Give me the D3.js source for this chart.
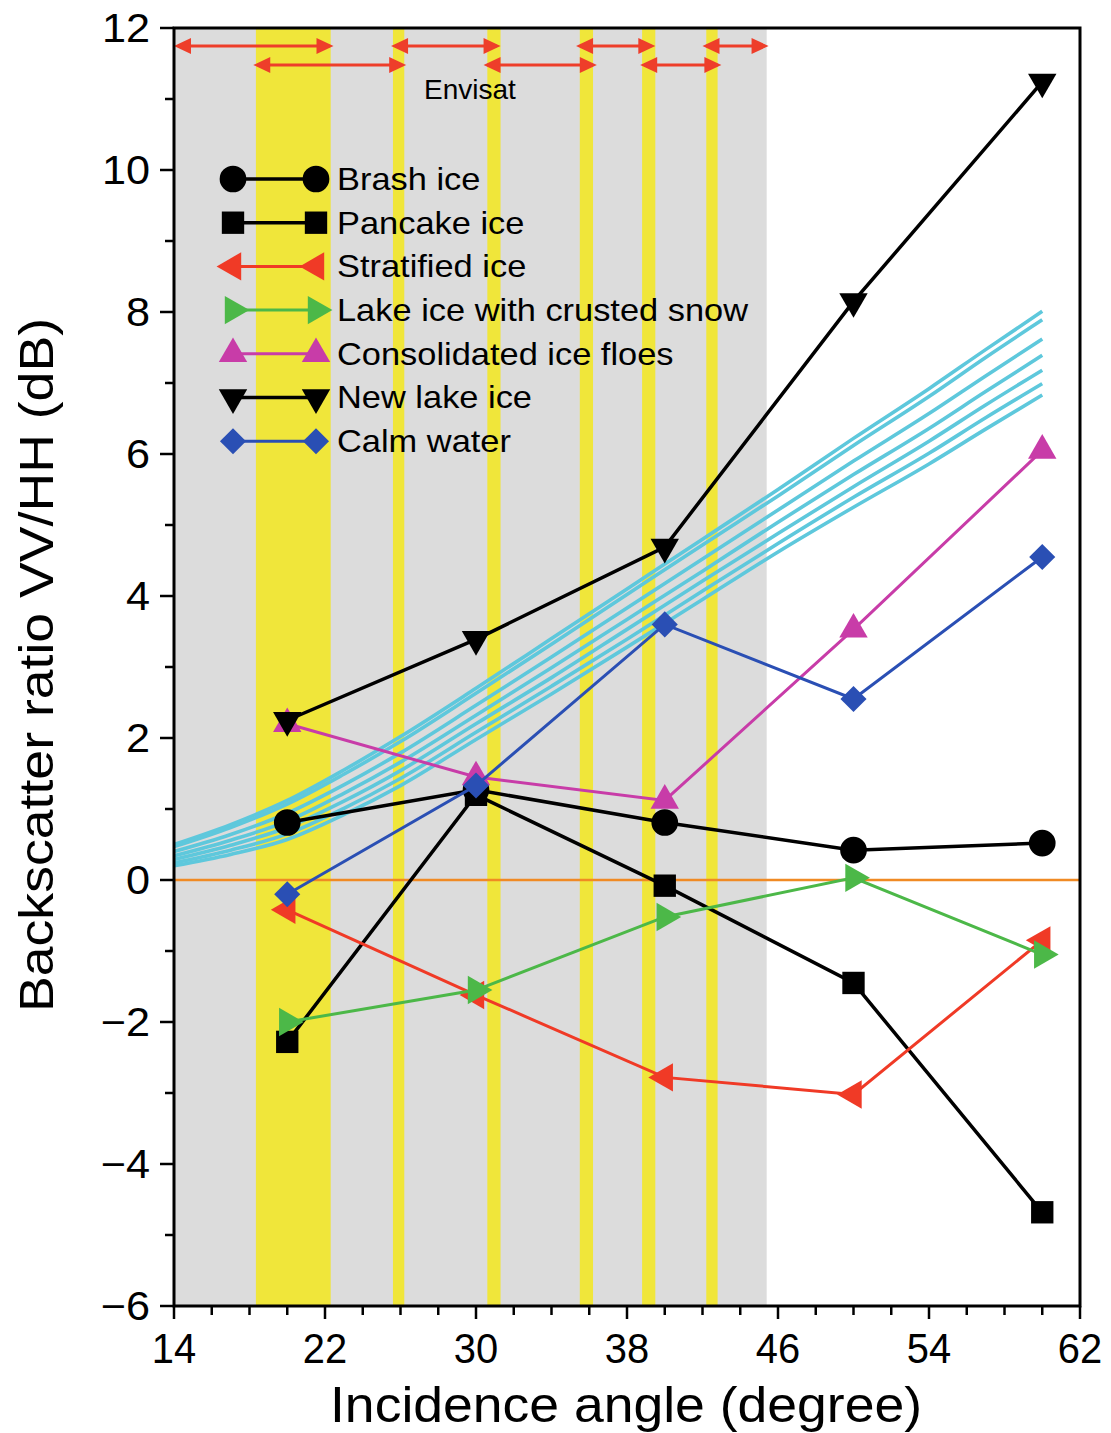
<!DOCTYPE html>
<html><head><meta charset="utf-8">
<script src="https://cdn.jsdelivr.net/npm/d3@7"></script>
<style>html,body{margin:0;padding:0;background:#fff;} svg{display:block;}</style>
</head><body>
<svg id="chart" width="1111" height="1433"></svg>
<script>
// ---------- data ----------
const angles = [20, 30, 40, 50, 60];
const brashIce        = [0.81, 1.27, 0.81, 0.42, 0.52];
const pancakeIce      = [-2.28, 1.20, -0.08, -1.45, -4.68];
const stratifiedIce   = [-0.42, -1.62, -2.78, -3.02, -0.85];
const lakeIceCrusted  = [-2.00, -1.55, -0.52, 0.03, -1.05];
const consolidatedIce = [2.20, 1.45, 1.12, 3.53, 6.05];
const newLakeIce      = [2.25, 3.39, 4.69, 8.15, 11.24];
const calmWater       = [-0.20, 1.33, 3.60, 2.55, 4.55];
const seriesNames = ["Brash ice", "Pancake ice", "Stratified ice", "Lake ice with crusted snow",
                     "Consolidated ice floes", "New lake ice", "Calm water"];

// model curves (cyan)
const curveAngles = [14, 17, 20, 23, 26, 30, 34, 38, 42, 46, 50, 54, 57, 60];
const curve1 = [0.50, 0.78, 1.12, 1.55, 2.02, 2.70, 3.40, 4.10, 4.80, 5.50, 6.22, 6.92, 7.47, 8.01];
const curve2 = [0.47, 0.74, 1.07, 1.49, 1.95, 2.63, 3.32, 4.02, 4.72, 5.41, 6.12, 6.81, 7.36, 7.89];
const curve3 = [0.40, 0.64, 0.94, 1.34, 1.79, 2.46, 3.14, 3.83, 4.52, 5.21, 5.90, 6.57, 7.10, 7.62];
const curve4 = [0.34, 0.56, 0.83, 1.22, 1.66, 2.32, 2.99, 3.67, 4.35, 5.04, 5.71, 6.36, 6.88, 7.39];
const curve5 = [0.29, 0.49, 0.74, 1.11, 1.54, 2.20, 2.85, 3.53, 4.21, 4.88, 5.54, 6.18, 6.69, 7.18];
const curve6 = [0.24, 0.42, 0.65, 1.01, 1.43, 2.08, 2.73, 3.39, 4.07, 4.74, 5.39, 6.01, 6.51, 6.99];
const curve7 = [0.20, 0.36, 0.57, 0.92, 1.33, 1.98, 2.62, 3.28, 3.95, 4.62, 5.25, 5.86, 6.35, 6.83];

// Envisat swaths (arrows) and overlaps (yellow bands)
const swathStart = [14.0, 18.2, 25.5, 30.4, 35.3, 38.7, 42.0];
const swathEnd   = [22.45, 26.3, 31.3, 36.4, 39.5, 43.0, 45.5];
const bandStart  = [18.34, 25.6, 30.6, 35.5, 38.8, 42.2];
const bandEnd    = [22.3, 26.2, 31.3, 36.2, 39.5, 42.8];
const grayRange  = [14, 45.4];

const xTicks = [14, 22, 30, 38, 46, 54, 62];
const yTicks = [-6, -4, -2, 0, 2, 4, 6, 8, 10, 12];

// ---------- layout ----------
const svg = d3.select("#chart");
const L = 174, R = 1080, T = 28, B = 1306;
const x = d3.scaleLinear().domain([14, 62]).range([L, R]);
const y = d3.scaleLinear().domain([-6, 12]).range([B, T]);
const FONT = "'Liberation Sans', Arial, Helvetica, sans-serif";

// gray region
svg.append("rect").attr("x", x(grayRange[0])).attr("y", T)
  .attr("width", x(grayRange[1]) - x(grayRange[0])).attr("height", B - T)
  .attr("fill", "#dcdcdc");
// yellow bands
svg.selectAll("rect.band").data(bandStart).join("rect").attr("class", "band")
  .attr("x", d => x(d)).attr("y", T)
  .attr("width", (d, i) => x(bandEnd[i]) - x(d)).attr("height", B - T)
  .attr("fill", "#f0e63a");

// zero line
svg.append("line").attr("x1", x(14)).attr("x2", x(62)).attr("y1", y(0)).attr("y2", y(0))
  .attr("stroke", "#f08a24").attr("stroke-width", 2.5);

// cyan curves
const curves = [curve1, curve2, curve3, curve4, curve5, curve6, curve7];
const cLine = d3.line().x((d, i) => x(curveAngles[i])).y(d => y(d)).curve(d3.curveMonotoneX);
curves.forEach(c => {
  svg.append("path").attr("d", cLine(c)).attr("fill", "none")
    .attr("stroke", "#5ec8dc").attr("stroke-width", 3.6);
});

// Envisat arrows
const arrowColor = "#ee3e2a";
function arrow(xa, xb, yy) {
  const g = svg.append("g");
  const hl = 17, hw = 8;
  g.append("line").attr("x1", xa + 4).attr("x2", xb - 4).attr("y1", yy).attr("y2", yy)
    .attr("stroke", arrowColor).attr("stroke-width", 3);
  g.append("path").attr("d", `M${xa},${yy}L${xa + hl},${yy - hw}L${xa + hl},${yy + hw}Z`).attr("fill", arrowColor);
  g.append("path").attr("d", `M${xb},${yy}L${xb - hl},${yy - hw}L${xb - hl},${yy + hw}Z`).attr("fill", arrowColor);
}
swathStart.forEach((s, i) => {
  const yy = (i % 2 === 0) ? 46 : 65;
  arrow(x(s), x(swathEnd[i]), yy);
});
svg.append("text").attr("x", 470).attr("y", 99).attr("text-anchor", "middle")
  .attr("font-family", FONT).attr("font-size", 28).attr("fill", "#000").text("Envisat");

// ---------- series ----------
const seriesData = [brashIce, pancakeIce, stratifiedIce, lakeIceCrusted, consolidatedIce, newLakeIce, calmWater];
const seriesColor = ["#000000", "#000000", "#f03a26", "#4cb848", "#c83ca8", "#000000", "#2a4fb4"];
const lineColor   = ["#000000", "#000000", "#f03a26", "#4cb848", "#c83ca8", "#000000", "#2a4fb4"];
const lineWidth   = [3.5, 3.5, 3, 3, 3, 3.5, 3];
const markerType  = ["circle", "square", "tleft", "tright", "tup", "tdown", "diamond"];

function markerPath(type) {
  switch (type) {
    case "circle": return d3.symbol(d3.symbolCircle, 560)();
    case "square": return d3.symbol(d3.symbolSquare, 500)();
    case "diamond": return d3.symbol(d3.symbolSquare, 340)();
    default: return d3.symbol(d3.symbolTriangle, 350)();
  }
}
function markerRot(type) {
  return ({tleft: -90, tright: 90, tup: 0, tdown: 180, diamond: 45})[type] || 0;
}
function drawMarker(g, type, cx, cy, color) {
  g.append("path").attr("d", markerPath(type))
    .attr("transform", `translate(${cx},${cy}) rotate(${markerRot(type)})`)
    .attr("fill", color);
}

const sLine = d3.line().x((d, i) => x(angles[i])).y(d => y(d));
seriesData.forEach((s, k) => {
  const g = svg.append("g");
  g.append("path").attr("d", sLine(s)).attr("fill", "none")
    .attr("stroke", lineColor[k]).attr("stroke-width", lineWidth[k]);
  s.forEach((v, i) => drawMarker(g, markerType[k], x(angles[i]), y(v), seriesColor[k]));
});

// ---------- legend ----------
const legX1 = 233, legX2 = 316, legY0 = 179, legDy = 43.7;
seriesNames.forEach((name, k) => {
  const yy = legY0 + k * legDy;
  const g = svg.append("g");
  g.append("line").attr("x1", legX1).attr("x2", legX2).attr("y1", yy).attr("y2", yy)
    .attr("stroke", lineColor[k]).attr("stroke-width", lineWidth[k]);
  drawMarker(g, markerType[k], legX1, yy, seriesColor[k]);
  drawMarker(g, markerType[k], legX2, yy, seriesColor[k]);
  g.append("text").attr("x", 337).attr("y", yy + 11).attr("font-family", FONT)
    .attr("font-size", 32).attr("fill", "#000")
    .attr("transform", `translate(337,0) scale(1.075,1) translate(-337,0)`)
    .text(name);
});

// ---------- axes ----------
const frame = svg.append("g");
frame.append("rect").attr("x", L).attr("y", T).attr("width", R - L).attr("height", B - T)
  .attr("fill", "none").attr("stroke", "#000").attr("stroke-width", 3);

// x ticks
const xMinor = d3.range(14, 62.01, 2);
frame.selectAll("line.xt").data(xMinor).join("line")
  .attr("x1", d => x(d)).attr("x2", d => x(d))
  .attr("y1", B).attr("y2", d => B + (xTicks.includes(d) ? 13 : 9))
  .attr("stroke", "#000").attr("stroke-width", 2.5);
frame.selectAll("text.xl").data(xTicks).join("text")
  .attr("x", d => x(d)).attr("y", B + 57).attr("text-anchor", "middle")
  .attr("font-family", FONT).attr("font-size", 42).attr("fill", "#000")
  .attr("transform", d => `translate(${x(d)},0) scale(0.95,1) translate(${-x(d)},0)`)
  .text(d => d);

// y ticks
const yMinor = d3.range(-6, 12.01, 1);
frame.selectAll("line.yt").data(yMinor).join("line")
  .attr("y1", d => y(d)).attr("y2", d => y(d))
  .attr("x1", L).attr("x2", d => L - (yTicks.includes(d) ? 14 : 9))
  .attr("stroke", "#000").attr("stroke-width", 2.5);
frame.selectAll("text.yl").data(yTicks).join("text")
  .attr("x", 150).attr("y", d => y(d) + 14).attr("text-anchor", "end")
  .attr("font-family", FONT).attr("font-size", 40).attr("fill", "#000")
  .attr("transform", `translate(150,0) scale(1.08,1) translate(-150,0)`)
  .text(d => d < 0 ? "\u2212" + Math.abs(d) : d);

// axis titles
svg.append("text").attr("x", 626).attr("y", 1422).attr("text-anchor", "middle")
  .attr("font-family", FONT).attr("font-size", 50).attr("fill", "#000")
  .attr("textLength", 592).attr("lengthAdjust", "spacingAndGlyphs")
  .text("Incidence angle (degree)");
svg.append("text").attr("transform", "translate(53,665) rotate(-90)").attr("text-anchor", "middle")
  .attr("font-family", FONT).attr("font-size", 48).attr("fill", "#000")
  .attr("textLength", 694).attr("lengthAdjust", "spacingAndGlyphs")
  .text("Backscatter ratio VV/HH (dB)");
</script>
</body></html>
